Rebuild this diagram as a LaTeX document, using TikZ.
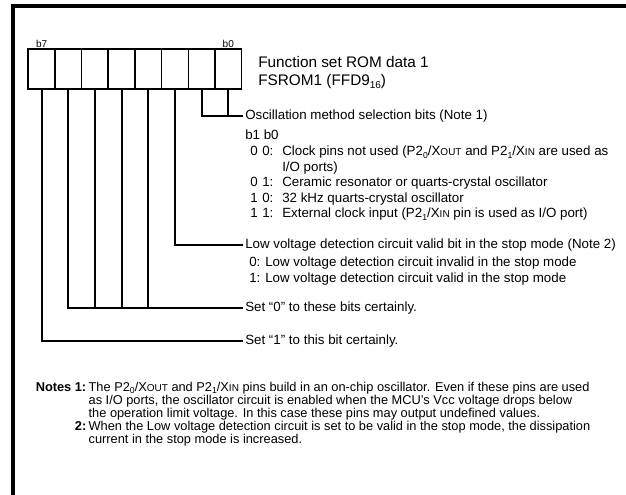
\documentclass[tikz,border=0pt]{standalone}
\usepackage{fontspec}
\setmainfont{Liberation Sans}
\usetikzlibrary{positioning}

\newcommand{\lowsub}[1]{\raisebox{-0.35ex}{\fontsize{6.5}{7}\selectfont #1}}
\newcommand{\smcap}[1]{{\fontsize{7.5}{8}\selectfont #1}}
\newcommand{\oscrow}[3]{\hspace*{3.75pt}\makebox[9pt][l]{#1}\makebox[15pt][l]{#2:}#3}
\newcommand{\notestrut}{\rule[-2.25pt]{0pt}{9.75pt}}

\begin{document}
\begin{tikzpicture}[x=0.75pt, y=-0.75pt,
    bitcell/.style={rectangle, draw, line width=1.2pt, minimum width=20pt,
                    minimum height=30pt, inner sep=0pt},
    bitlbl/.style={font=\fontsize{7.5}{8}\selectfont, inner sep=0.5pt},
    txt/.style={font=\fontsize{10}{11.7}\selectfont, inner sep=1.5pt, anchor=west},
    lst/.style={font=\fontsize{10}{11.7}\selectfont, inner sep=0pt, anchor=base west},
    wire/.style={line width=1.4pt},
    frame/.style={line width=2.4pt}
  ]
    \useasboundingbox (0,0) rectangle (626,495);

    % Frame
    \draw[frame] (13,495) -- (13,6) -- (626,6);

    % Register bits b7 .. b0
    \foreach \i in {0,...,7}
      \node[bitcell] (c\i) at ({228.3-26.667*\i},69) {};
    \node[bitlbl, above=0pt of c7] {b7};
    \node[bitlbl, above=0pt of c0] {b0};

    % Register name
    \node[font=\fontsize{11.5}{13.5}\selectfont, align=left, anchor=west, inner sep=0pt]
      (title) at (258,73) {Function set ROM data 1\\FSROM1 (FFD9\raisebox{-0.35ex}{\fontsize{7.5}{8}\selectfont 16})};

    % b1, b0: oscillation method
    \node[txt] (osc) at (243,116) {Oscillation method selection bits (Note 1)};
    \draw[wire] (c1.south) |- (osc.west);
    \draw[wire] (c0.south) -- (c0.south |- osc.west);
    \node[lst] (osclist) at (245,140) {\begin{tabular}[t]{@{}l@{}}
      b1 b0\\
      \oscrow{0}{0}{Clock pins not used (P2\lowsub{0}/X\smcap{OUT} and P2\lowsub{1}/X\smcap{IN} are used as}\\
      \hspace*{27.75pt}I/O ports)\\
      \oscrow{0}{1}{Ceramic resonator or quarts-crystal oscillator}\\
      \oscrow{1}{0}{32 kHz quarts-crystal oscillator}\\
      \oscrow{1}{1}{External clock input (P2\lowsub{1}/X\smcap{IN} pin is used as I/O port)}
    \end{tabular}};

    % b2: low voltage detection
    \node[txt] (lvd) at (243,245) {Low voltage detection circuit valid bit in the stop mode (Note 2)};
    \draw[wire] (c2.south) |- (lvd.west);
    \node[lst] (lvdlist) at (245,266.5) {\begin{tabular}[t]{@{}l@{}}
      \hspace*{3pt}0: Low voltage detection circuit invalid in the stop mode\\
      \hspace*{3pt}1: Low voltage detection circuit valid in the stop mode
    \end{tabular}};

    % b6 .. b3: reserved 0
    \node[txt] (set0) at (243,308) {Set “0” to these bits certainly.};
    \draw[wire] (c6.south) |- (set0.west);
    \foreach \i in {3,4,5}
      \draw[wire] (c\i.south) -- (c\i.south |- set0.west);

    % b7: reserved 1
    \node[txt] (set1) at (243,341) {Set “1” to this bit certainly.};
    \draw[wire] (c7.south) |- (set1.west);

    % Notes
    \node[font=\fontsize{9.6}{9.75}\selectfont, anchor=base west, inner sep=0pt]
      (notes) at (35.5,391.5) {\def\arraystretch{0}\begin{tabular}[t]{@{}r@{\hspace{1.8pt}}l@{}}
      \notestrut\textbf{Notes 1:} & The P2\lowsub{0}/X\smcap{OUT} and P2\lowsub{1}/X\smcap{IN} pins build in an on-chip oscillator. Even if these pins are used\\
      \notestrut & as I/O ports, the oscillator circuit is enabled when the MCU’s Vcc voltage drops below\\
      \notestrut & the operation limit voltage. In this case these pins may output undefined values.\\
      \notestrut\textbf{2:} & When the Low voltage detection circuit is set to be valid in the stop mode, the dissipation\\
      \notestrut & current in the stop mode is increased.
    \end{tabular}};
  \end{tikzpicture}
\end{document}
